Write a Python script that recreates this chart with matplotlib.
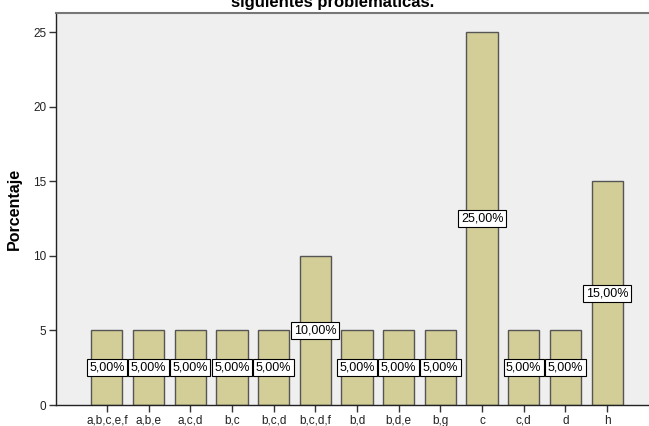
import matplotlib.pyplot as plt
import numpy as np

plt.rcParams['font.family'] = ['Liberation Sans', 'DejaVu Sans']

# Respuestas combinadas y su porcentaje
categorias = ['a,b,c,e,f', 'a,b,e', 'a,c,d', 'b,c', 'b,c,d', 'b,c,d,f',
              'b,d', 'b,d,e', 'b,g', 'c', 'c,d', 'd', 'h']
porcentajes = [5, 5, 5, 5, 5, 10, 5, 5, 5, 25, 5, 5, 15]
etiquetas = ['5,00%', '5,00%', '5,00%', '5,00%', '5,00%', '10,00%',
             '5,00%', '5,00%', '5,00%', '25,00%', '5,00%', '5,00%', '15,00%']
yticks = [0, 5, 10, 15, 20, 25]

fig = plt.figure(figsize=(6.49, 4.26), dpi=100)
ax = fig.add_axes([56 / 649, 1 - 405 / 426, 602 / 649, 392 / 426])
ax.set_facecolor('#efefef')

x = np.arange(len(categorias))
ax.bar(x, porcentajes, width=0.75, color='#d3ce98', edgecolor='#555555',
       linewidth=1.0, zorder=2)

# etiquetas de valor en el centro de cada barra
for xi, v, txt in zip(x, porcentajes, etiquetas):
    ax.text(xi, v / 2, txt, ha='center', va='center', fontsize=9,
            color='black', zorder=3,
            bbox=dict(boxstyle='square,pad=0.2', facecolor='white',
                      edgecolor='black', linewidth=0.8))

ax.set_xlim(-1.22, 13.22)
ax.set_ylim(0, 26.3)
ax.set_xticks(x)
ax.set_xticklabels(categorias, fontsize=8.5, color='#222222')
ax.set_yticks(yticks)
ax.set_yticklabels([str(t) for t in yticks], fontsize=8.5, color='#222222')
ax.tick_params(axis='both', direction='out', length=5, width=1,
               color='#333333', pad=2)

for s in ['left', 'bottom']:
    ax.spines[s].set_color('#222222')
    ax.spines[s].set_linewidth(1.0)
ax.spines['top'].set_color('#777777')
ax.spines['top'].set_linewidth(1.5)
ax.spines['right'].set_visible(False)

ax.set_ylabel('Porcentaje', fontsize=11.5, fontweight='bold', labelpad=8)

fig.text(333 / 649, 1 - 7 / 426, 'siguientes problemáticas.', ha='center',
         va='baseline', fontsize=12, fontweight='bold')

fig.savefig('out.png', dpi=100)
